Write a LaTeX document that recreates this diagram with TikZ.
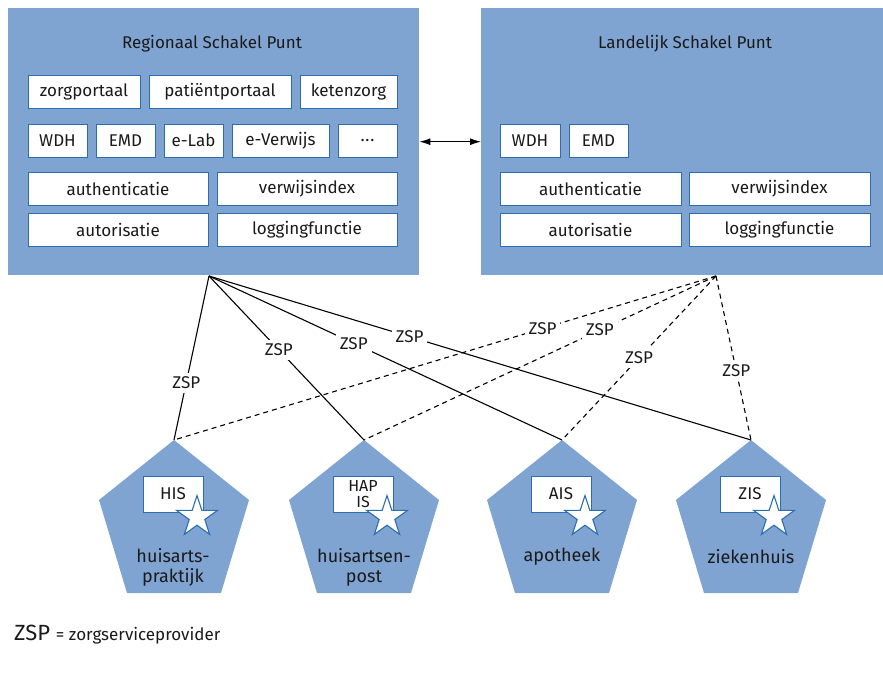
\documentclass[tikz,border=0pt]{standalone}
\usepackage{fontspec}
\setmainfont{Fira Sans}
\usetikzlibrary{arrows.meta,shapes.geometric}
\definecolor{panel}{HTML}{80A4D2}
\definecolor{edge}{HTML}{2A6DB0}
\definecolor{ink}{HTML}{1A1A1A}

\begin{document}
\begin{tikzpicture}[x=1pt,y=-1pt,
  panelbox/.style={fill=panel, draw=none, inner sep=0pt, anchor=north west},
  module/.style={draw=edge, fill=white, line width=1pt, minimum height=33pt,
    inner sep=0pt, text=ink, font=\fontsize{17}{19}\selectfont},
  sysbox/.style={module, minimum width=60pt, minimum height=36pt, align=center,
    font=\fontsize{17}{19}\selectfont},
  badge/.style={star, star points=5, star point ratio=2.618, minimum size=43pt,
    inner sep=0pt, draw=edge, fill=white, line width=1.1pt},
  title/.style={text=ink, font=\fontsize{17}{19}\selectfont},
  site/.style={text=ink, align=center, font=\fontsize{18}{20}\selectfont},
  link/.style={line width=1.1pt, black},
  dlink/.style={link, dash pattern=on 5pt off 4pt},
  zsp/.style={fill=white, inner sep=4pt, text=ink, font=\fontsize{17}{19}\selectfont},
  both/.style={line width=1pt, {Latex[length=11pt,width=7pt]}-{Latex[length=11pt,width=7pt]}},
]
\useasboundingbox (0,0) rectangle (883,672);

% --- switching points ---
\node[panelbox, minimum width=411pt, minimum height=267pt] (rsp) at (8,8) {};
\node[panelbox, minimum width=402pt, minimum height=267pt] (lsp) at (481,8) {};

\node[title] (rtitle) at (212,44) {Regionaal Schakel Punt};
\node[title] (ltitle) at (685,44) {Landelijk Schakel Punt};

% regional modules
\node[module, minimum width=112pt] (zorg) at (84,91.5) {zorgportaal};
\node[module, minimum width=142pt] (pat) at (220,91.5) {patiëntportaal};
\node[module, minimum width=97pt] (keten) at (348.5,91.5) {ketenzorg};
\node[module, minimum width=59pt] (wdhR) at (57.5,140.5) {WDH};
\node[module, minimum width=59pt] (emdR) at (125.5,140.5) {EMD};
\node[module, minimum width=59pt] (elab) at (193.5,140.5) {e-Lab};
\node[module, minimum width=97pt] (ever) at (280.5,140.5) {e-Verwijs};
\node[module, minimum width=59pt] (more) at (367.5,140.5) {.\kern0.8pt.\kern0.8pt.};
\node[module, minimum width=180pt] (authR) at (118,188.5) {authenticatie};
\node[module, minimum width=180pt] (vwiR) at (307,188.5) {verwijsindex};
\node[module, minimum width=180pt] (autoR) at (118,229.5) {autorisatie};
\node[module, minimum width=180pt] (logR) at (307,229.5) {loggingfunctie};

% national modules
\node[module, minimum width=60pt] (wdhL) at (530,140.5) {WDH};
\node[module, minimum width=59pt] (emdL) at (598.5,140.5) {EMD};
\node[module, minimum width=181pt] (authL) at (590.5,188.5) {authenticatie};
\node[module, minimum width=181pt] (vwiL) at (779.5,188.5) {verwijsindex};
\node[module, minimum width=181pt] (autoL) at (590.5,229.5) {autorisatie};
\node[module, minimum width=181pt] (logL) at (779.5,229.5) {loggingfunctie};

\draw[both] (rsp.east) -- (lsp.west);

% --- care sites ---
\foreach \i/\cx in {1/174,2/364,3/562,4/751} {
  \fill[panel] (\cx,440) -- (\cx+75,500) -- (\cx+47,593) -- (\cx-47,593)
    -- (\cx-75,500) -- cycle;
  \coordinate (p\i) at (\cx,440);
}

\node[sysbox] (his) at (173,494) {HIS};
\node[badge] (s1) at (197,517) {};
\node[sysbox, font=\fontsize{16}{16.5}\selectfont] (hapis) at (363,494) {HAP\\IS};
\node[badge] (s2) at (387,517) {};
\node[sysbox] (ais) at (561,494) {AIS};
\node[badge] (s3) at (585,517) {};
\node[sysbox] (zis) at (750,494) {ZIS};
\node[badge] (s4) at (774,517) {};

\node[site] (hp) at (173,567) {huisarts-\\praktijk};
\node[site] (hpost) at (364,567) {huisartsen-\\post};
\node[site] (apo) at (562,557) {apotheek};
\node[site] (zkh) at (751,557) {ziekenhuis};

% --- connections ---
\coordinate (rout) at (209,276);
\coordinate (lout) at (716,276);
\foreach \i in {1,2,3,4} {
  \draw[link] (rout) -- (p\i);
  \draw[dlink] (lout) -- (p\i);
}
\path (rout) -- node[zsp, pos=0.65] (z1) {ZSP} (p1);
\path (rout) -- node[zsp, pos=0.45] (z2) {ZSP} (p2);
\path (rout) -- node[zsp, pos=0.41] (z3) {ZSP} (p3);
\path (rout) -- node[zsp, pos=0.37] (z4) {ZSP} (p4);
\path (lout) -- node[zsp, pos=0.32] (z5) {ZSP} (p1);
\path (lout) -- node[zsp, pos=0.33] (z6) {ZSP} (p2);
\path (lout) -- node[zsp, pos=0.50] (z7) {ZSP} (p3);
\path (lout) -- node[zsp, pos=0.58] (z8) {ZSP} (p4);

% --- legend ---
\node[anchor=west, text=ink, inner sep=0pt] (legend) at (14,635)
  {\fontsize{22}{24}\selectfont ZSP \fontsize{17}{19}\selectfont= zorgserviceprovider};
\end{tikzpicture}
\end{document}
